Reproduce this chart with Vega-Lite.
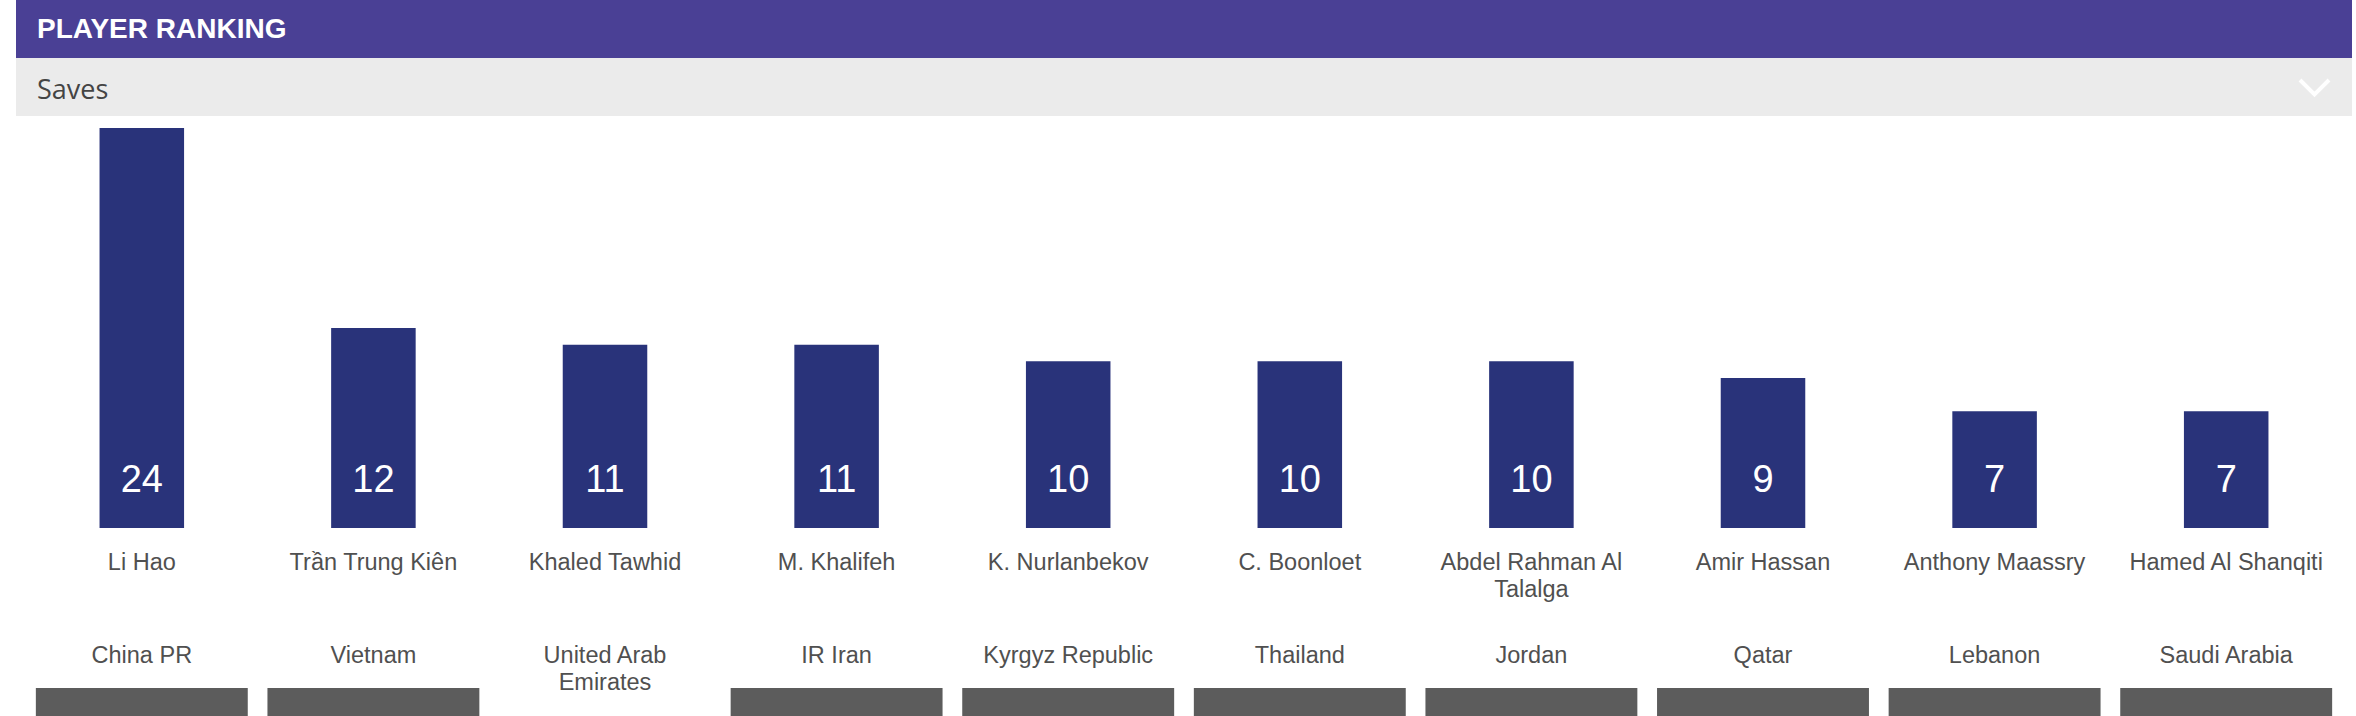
{
  "$schema": "https://vega.github.io/schema/vega-lite/v6.json",
  "padding": {"left": 16, "top": 0, "right": 4, "bottom": 0},
  "background": "white",
  "config": {"view": {"stroke": null}, "font": "Liberation Sans"},
  "datasets": {
    "ranking": [
      {"player": "Li Hao", "country": "China PR", "saves": 24, "badge": true},
      {"player": "Trần Trung Kiên", "country": "Vietnam", "saves": 12, "badge": true},
      {"player": "Khaled Tawhid", "country": "United Arab Emirates", "saves": 11, "badge": false},
      {"player": "M. Khalifeh", "country": "IR Iran", "saves": 11, "badge": true},
      {"player": "K. Nurlanbekov", "country": "Kyrgyz Republic", "saves": 10, "badge": true},
      {"player": "C. Boonloet", "country": "Thailand", "saves": 10, "badge": true},
      {"player": "Abdel Rahman Al Talalga", "country": "Jordan", "saves": 10, "badge": true},
      {"player": "Amir Hassan", "country": "Qatar", "saves": 9, "badge": true},
      {"player": "Anthony Maassry", "country": "Lebanon", "saves": 7, "badge": true},
      {"player": "Hamed Al Shanqiti", "country": "Saudi Arabia", "saves": 7, "badge": true}
    ]
  },
  "spacing": 12,
  "vconcat": [
    {
      "bounds": "flush",
      "spacing": 0,
      "vconcat": [
        {
          "width": 2336,
          "height": 58,
          "view": {"fill": "#4a4095", "stroke": null},
          "title": {"text": "PLAYER RANKING", "anchor": "start", "frame": "group", "orient": "top", "offset": -66, "baseline": "alphabetic", "dx": 21, "fontSize": 28, "font": "Liberation Sans", "fontWeight": "bold", "color": "#ffffff"},
          "data": {"values": []},
          "mark": "rect",
          "encoding": {}
        },
        {
          "width": 2336,
          "height": 58,
          "view": {"fill": "#ebebeb", "stroke": null},
          "title": {"text": "Saves", "anchor": "start", "frame": "group", "orient": "top", "offset": -68, "baseline": "alphabetic", "dx": 21, "fontSize": 27, "font": "Open Sans", "fontWeight": "normal", "color": "#444444"},
          "data": {"values": [{"control": "expand"}]},
          "mark": {"type": "point", "shape": "M-52,-7L-37.5,7.5L-23,-7", "size": 4, "filled": false, "color": "#ffffff", "strokeWidth": 4, "opacity": 1},
          "encoding": {"x": {"value": "width"}}
        }
      ]
    },
    {
      "bounds": "flush",
      "spacing": 160,
      "vconcat": [
        {
          "width": 2336,
          "height": 400,
          "data": {"name": "ranking"},
          "encoding": {
            "x": {
              "field": "player", "type": "nominal", "sort": null,
              "scale": {"paddingInner": 0, "paddingOuter": 0.0432},
              "axis": {"title": null, "domain": false, "ticks": false, "tickSize": 0, "grid": false, "labelAngle": 0, "labelFontSize": 23.5, "labelColor": "#505050", "labelFont": "Liberation Sans", "labelPadding": 22, "labelLineHeight": 27, "labelLimit": 400, "labelBaseline": "top", "labelOverlap": false,
                "labelExpr": "length(datum.label) > 18 ? [slice(datum.label, 0, lastindexof(datum.label, ' ')), slice(datum.label, lastindexof(datum.label, ' ') + 1)] : datum.label"}
            }
          },
          "layer": [
            {
              "mark": {"type": "bar", "color": "#29337a", "width": {"band": 0.365}},
              "encoding": {"y": {"field": "saves", "type": "quantitative", "scale": {"domain": [0, 24], "nice": false}, "axis": null}}
            },
            {
              "mark": {"type": "text", "color": "#ffffff", "fontSize": 38, "font": "Liberation Sans", "baseline": "alphabetic", "dy": -36},
              "encoding": {"y": {"datum": 0, "type": "quantitative"}, "text": {"field": "saves", "type": "quantitative"}}
            }
          ]
        },
        {
          "width": 2336,
          "height": 28,
          "data": {"name": "ranking"},
          "mark": {"type": "bar", "color": "#5c5c5c", "width": {"band": 0.915}},
          "encoding": {
            "x": {
              "field": "country", "type": "nominal", "sort": null,
              "scale": {"paddingInner": 0, "paddingOuter": 0.0432},
              "axis": {"orient": "top", "title": null, "domain": false, "ticks": false, "tickSize": 0, "grid": false, "labelAngle": 0, "labelFontSize": 23.5, "labelColor": "#505050", "labelFont": "Liberation Sans", "labelPadding": 45, "labelLineHeight": 27, "labelLimit": 400, "labelBaseline": "top", "labelOverlap": false,
                "labelExpr": "length(datum.label) > 18 ? [slice(datum.label, 0, lastindexof(datum.label, ' ')), slice(datum.label, lastindexof(datum.label, ' ') + 1)] : datum.label"}
            },
            "opacity": {"condition": {"test": "datum.badge", "value": 1}, "value": 0}
          }
        }
      ]
    }
  ]
}
